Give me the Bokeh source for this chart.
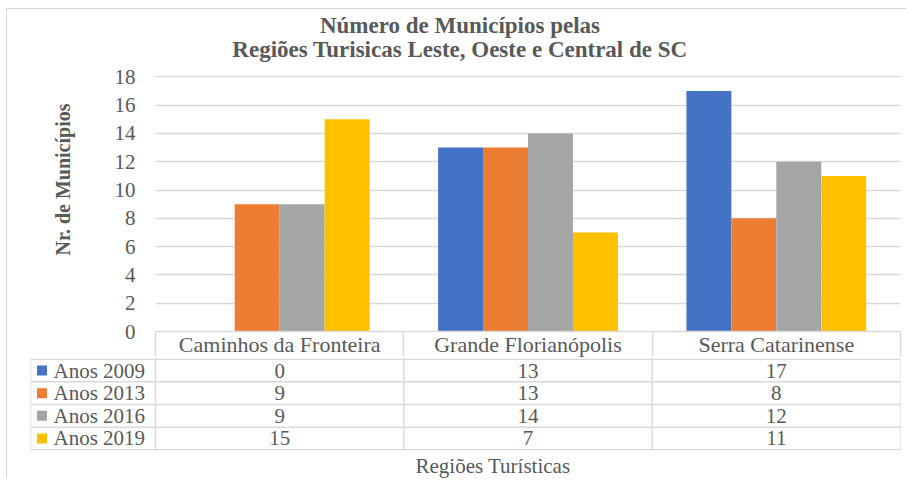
from bokeh.plotting import figure
from bokeh.models import Range1d, FixedTicker, Title
from bokeh.embed import file_html
from bokeh.resources import INLINE
from bokeh.core.properties import value

# ---------------- data ----------------
categories = ["Caminhos da Fronteira", "Grande Florianópolis", "Serra Catarinense"]
series_names = ["Anos 2009", "Anos 2013", "Anos 2016", "Anos 2019"]
anos_2009 = [0, 13, 17]
anos_2013 = [9, 13, 8]
anos_2016 = [9, 14, 12]
anos_2019 = [15, 7, 11]
colors = ["#4472C4", "#ED7D31", "#A5A5A5", "#FFC000"]
y_ticks = [0, 2, 4, 6, 8, 10, 12, 14, 16, 18]
title_lines = ["Número de Municípios pelas", "Regiões Turisicas Leste, Oeste e Central de SC"]
y_label = "Nr. de Municípios"
x_label = "Regiões Turísticas"

# ---------------- style ----------------
FONT = "Liberation Serif"
TXT = "#595959"
GRID = "#D9D9D9"

series = [anos_2009, anos_2013, anos_2016, anos_2019]
n_cat = len(categories)
n_ser = len(series)
bar_w = 0.181
y_top = 22.55          # space above the 18 line holds the title

# ---------------- chart ----------------
p = figure(width=900, height=350, x_range=Range1d(0, n_cat), y_range=Range1d(0, y_top),
           output_backend="svg", toolbar_location=None, title=None,
           min_border_left=148, min_border_right=7, min_border_top=3, min_border_bottom=25,
           styles={"margin-left": "6px", "margin-top": "8px",
                   "border-left": "1px solid #D9D9D9", "border-top": "1px solid #D9D9D9"})

for k, s in enumerate(series):
    xs = [i + 0.5 + (k - (n_ser - 1) / 2) * bar_w for i in range(n_cat)]
    p.vbar(x=xs, top=s, bottom=0, width=bar_w, fill_color=colors[k], line_color=None)

p.outline_line_color = None
p.xgrid.grid_line_color = None
p.ygrid.ticker = FixedTicker(ticks=y_ticks[1:])
p.ygrid.grid_line_color = GRID
p.ygrid.grid_line_width = 1.5

yax = p.yaxis[0]
yax.ticker = FixedTicker(ticks=y_ticks)
yax.axis_line_color = None
yax.major_tick_line_color = None
yax.minor_tick_line_color = None
yax.major_tick_out = 0
yax.major_tick_in = 0
yax.major_label_standoff = 20
yax.major_label_text_font = FONT
yax.major_label_text_font_size = "21px"
yax.major_label_text_color = TXT

p.add_layout(Title(text=y_label, align="right", offset=91, text_font=FONT,
                   text_font_size="20px", text_font_style="bold", text_color=TXT,
                   standoff=76), "left")

centers = [i + 0.5 for i in range(n_cat)]
bounds = [float(i) for i in range(n_cat + 1)]
xax = p.xaxis[0]
xax.ticker = FixedTicker(ticks=centers, minor_ticks=bounds)
xax.major_label_overrides = {c: cat for c, cat in zip(centers, categories)}
xax.major_tick_line_color = None
xax.major_tick_out = 0
xax.major_tick_in = 0
xax.minor_tick_out = 25
xax.minor_tick_in = 0
xax.minor_tick_line_color = GRID
xax.minor_tick_line_width = 1.5
xax.axis_line_color = GRID
xax.axis_line_width = 1.5
xax.major_label_standoff = -25
xax.major_label_text_font = FONT
xax.major_label_text_font_size = "22px"
xax.major_label_text_color = TXT

# title, two centred lines above the plot area
p.text(x=[1.226, 1.226], y=[21.62, 19.95], text=title_lines, text_align="center",
       text_baseline="middle", text_font=value(FONT), text_font_size=value("23px"),
       text_font_style="bold", text_color=TXT)

# ---------------- data table ----------------
legend_w = 3 * 125 / 745
q = figure(width=900, height=120, x_range=Range1d(-legend_w, n_cat), y_range=Range1d(-0.03, n_ser + 0.03),
           output_backend="svg", toolbar_location=None, title=None,
           min_border_left=23, min_border_right=7, min_border_top=0, min_border_bottom=26,
           styles={"margin-left": "6px", "border-left": "1px solid #D9D9D9"})
q.axis.visible = False
q.grid.visible = False
q.outline_line_color = None

row_edges = [float(r) for r in range(n_ser + 1)]
q.segment(x0=[-legend_w] * len(row_edges), x1=[n_cat] * len(row_edges), y0=row_edges, y1=row_edges,
          line_color=GRID, line_width=1.5)
col_edges = [-legend_w] + [float(i) for i in range(n_cat + 1)]
q.segment(x0=col_edges, x1=col_edges, y0=[0] * len(col_edges), y1=[n_ser] * len(col_edges),
          line_color=GRID, line_width=1.5)

tx, ty, tt = [], [], []
for k in range(n_ser):
    for i in range(n_cat):
        tx.append(i + 0.5)
        ty.append(n_ser - k - 0.5)
        tt.append(str(series[k][i]))
q.text(x=tx, y=ty, text=tt, text_align="center", text_baseline="middle",
       text_font=value(FONT), text_font_size=value("21px"), text_color=TXT)

row_y = [n_ser - k - 0.5 for k in range(n_ser)]
q.scatter(x=[-legend_w + 0.0463] * n_ser, y=row_y, marker="square", size=10,
          fill_color=colors, line_color=None)
q.text(x=[-legend_w + 0.0926] * n_ser, y=row_y, text=series_names, text_align="left",
       text_baseline="middle", text_font=value(FONT), text_font_size=value("21px"), text_color=TXT)

q.add_layout(Title(text=x_label, align="left", offset=385, text_font=FONT, text_font_size="21px",
                   text_font_style="normal", text_color=TXT, standoff=2), "below")

open("out.html", "w").write(file_html([p, q], INLINE))
